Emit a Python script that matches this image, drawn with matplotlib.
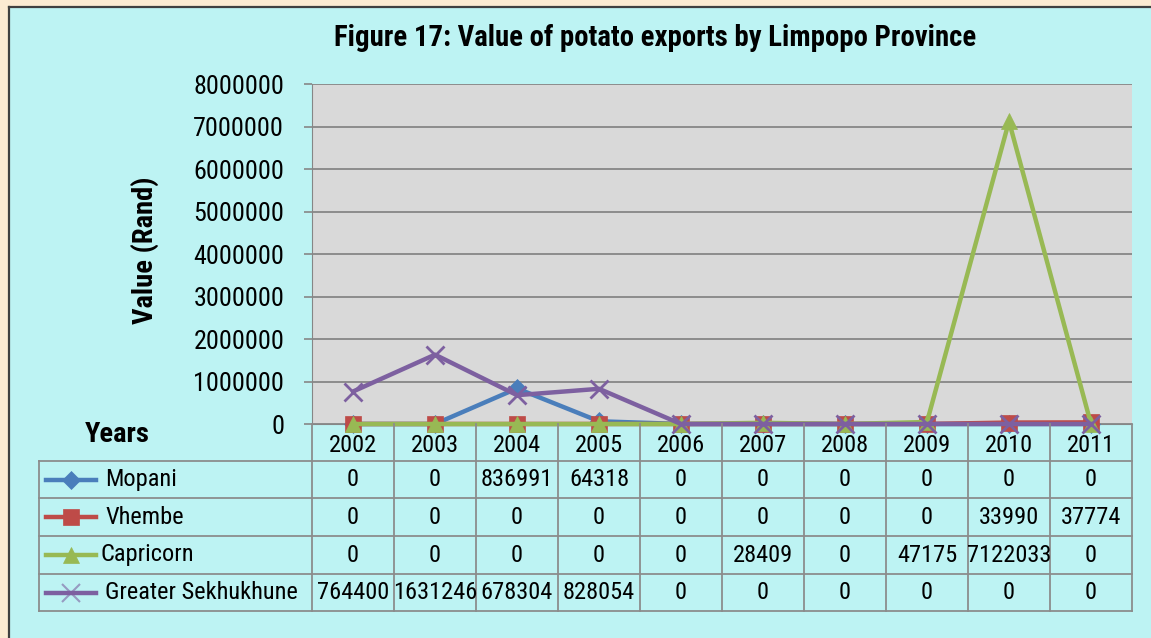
import matplotlib
matplotlib.use("Agg")
import matplotlib.pyplot as plt
from matplotlib.lines import Line2D
from matplotlib.patches import Rectangle
from matplotlib import font_manager

# data
years = ['2002', '2003', '2004', '2005', '2006', '2007', '2008', '2009', '2010', '2011']
series_names = ['Mopani', 'Vhembe', 'Capricorn', 'Greater Sekhukhune']
mopani = [0, 0, 836991, 64318, 0, 0, 0, 0, 0, 0]
vhembe = [0, 0, 0, 0, 0, 0, 0, 0, 33990, 37774]
capricorn = [0, 0, 0, 0, 0, 28409, 0, 47175, 7122033, 0]
sekhukhune = [764400, 1631246, 678304, 828054, 0, 0, 0, 0, 0, 0]
yticks = [0, 1000000, 2000000, 3000000, 4000000, 5000000, 6000000, 7000000, 8000000]

colors = ['#4a7ebb', '#be4b48', '#98b954', '#7d60a0']
markers = ['D', 's', '^', 'x']
msizes = [9, 11, 12, 13]

# look for a narrow font (the original uses Arial Narrow)
names = {f.name for f in font_manager.fontManager.ttflist}
stretch = 'normal'
scale = 1.0
family = None
for n in ['Liberation Sans Narrow', 'Arial Narrow', 'Roboto Condensed', 'Open Sans Condensed']:
    if n in names:
        family = n
        break
if family is None:
    cond = [f for f in font_manager.fontManager.ttflist
            if f.name == 'DejaVu Sans' and 'ondensed' in str(f.stretch) + f.fname]
    if cond:
        family = 'DejaVu Sans'
        stretch = 'condensed'
        scale = 0.8
    else:
        family = 'Liberation Sans'
        scale = 0.82
plt.rcParams['font.family'] = [family, 'DejaVu Sans']
plt.rcParams['font.stretch'] = stretch

fs_tick = 18.8 * scale
fs_title = 20.7 * scale
fs_ylab = 20.5 * scale
fs_tab = 17.6 * scale

W, H = 1151, 638
fig = plt.figure(figsize=(W / 100, H / 100), dpi=100)
fig.patch.set_facecolor('#fcebd2')


def fx(x):
    return x / W


def fy(y):
    return 1 - y / H


# cyan panel with dark frame
fig.patches.append(Rectangle((fx(9), 0), 1, fy(7), transform=fig.transFigure,
                             facecolor='#bdf3f3', edgecolor='none', zorder=-5))
fig.lines.append(Line2D([fx(9), fx(9)], [0, fy(7)], transform=fig.transFigure,
                        color='#404040', lw=1.6, zorder=-4))
fig.lines.append(Line2D([fx(9), 1], [fy(7), fy(7)], transform=fig.transFigure,
                        color='#404040', lw=1.6, zorder=-4))

# plot area
left, right, top, bottom = 312, 1132, 84, 424
ax = fig.add_axes([fx(left), fy(bottom), fx(right - left), fy(top) - fy(bottom)])
ax.set_facecolor('#d9d9d9')
ax.set_xlim(-0.5, len(years) - 0.5)
ax.set_ylim(0, 8000000)
ax.set_yticks(yticks)
ax.set_yticklabels([str(v) for v in yticks], fontsize=fs_tick)
ax.set_xticks([])
ax.grid(axis='y', color='#868686', lw=1.3)
ax.set_axisbelow(True)
for s in ['top', 'right']:
    ax.spines[s].set_visible(False)
ax.spines['left'].set_color('#868686')
ax.spines['bottom'].set_color('#868686')
ax.tick_params(axis='y', length=6, color='#868686', width=1.2, pad=14)

all_series = [mopani, vhembe, capricorn, sekhukhune]
for i, vals in enumerate(all_series):
    ax.plot(range(len(years)), vals, color=colors[i], lw=3.2, marker=markers[i],
            ms=msizes[i], mew=2 if markers[i] == 'x' else 0.5,
            mec=colors[i], clip_on=False, zorder=3 + i)

fig.text(fx(145), fy(250), 'Value (Rand)', rotation=90, fontsize=fs_ylab, fontweight='bold',
         ha='center', va='center')

fig.text(fx(655), fy(38), 'Figure 17: Value of potato exports by Limpopo Province',
         fontsize=fs_title, fontweight='bold', ha='center', va='center')

# data table
gc = '#8c8c8c'
col_w = (right - left) / len(years)
row_y = [424, 461, 498, 536, 574, 611]
tab_left = 39


def hline(x0, x1, y):
    fig.lines.append(Line2D([fx(x0), fx(x1)], [fy(y), fy(y)], transform=fig.transFigure,
                            color=gc, lw=1.3))


def vline(x, y0, y1):
    fig.lines.append(Line2D([fx(x), fx(x)], [fy(y0), fy(y1)], transform=fig.transFigure,
                            color=gc, lw=1.3))


for y in row_y[1:]:
    hline(tab_left, right, y)
vline(tab_left, row_y[1], row_y[-1])
for j in range(len(years) + 1):
    vline(left + j * col_w, row_y[0], row_y[-1])

for j, yr in enumerate(years):
    fig.text(fx(left + (j + 0.5) * col_w), fy((row_y[0] + row_y[1]) / 2 + 3), yr,
             fontsize=fs_tab, ha='center', va='center')

fig.text(fx(117), fy(435), 'Years', fontsize=fs_ylab, fontweight='bold', ha='center', va='center')

for i, vals in enumerate(all_series):
    yc = (row_y[i + 1] + row_y[i + 2]) / 2
    fig.lines.append(Line2D([fx(46), fx(96)], [fy(yc), fy(yc)], transform=fig.transFigure,
                            color=colors[i], lw=3.2))
    fig.lines.append(Line2D([fx(71)], [fy(yc)], transform=fig.transFigure,
                            color=colors[i], marker=markers[i], ms=msizes[i],
                            mew=1.5 if markers[i] == 'x' else 0.5, mec=colors[i],
                            alpha=0.6 if markers[i] == 'x' else 1))
    lx = 100 if series_names[i] == 'Capricorn' else 105
    fig.text(fx(lx), fy(yc), series_names[i], fontsize=fs_tab, ha='left', va='center')
    for j, v in enumerate(vals):
        fig.text(fx(left + (j + 0.5) * col_w), fy(yc), str(v), fontsize=fs_tab,
                 ha='center', va='center')

fig.savefig('out.png', dpi=100, facecolor=fig.get_facecolor())
